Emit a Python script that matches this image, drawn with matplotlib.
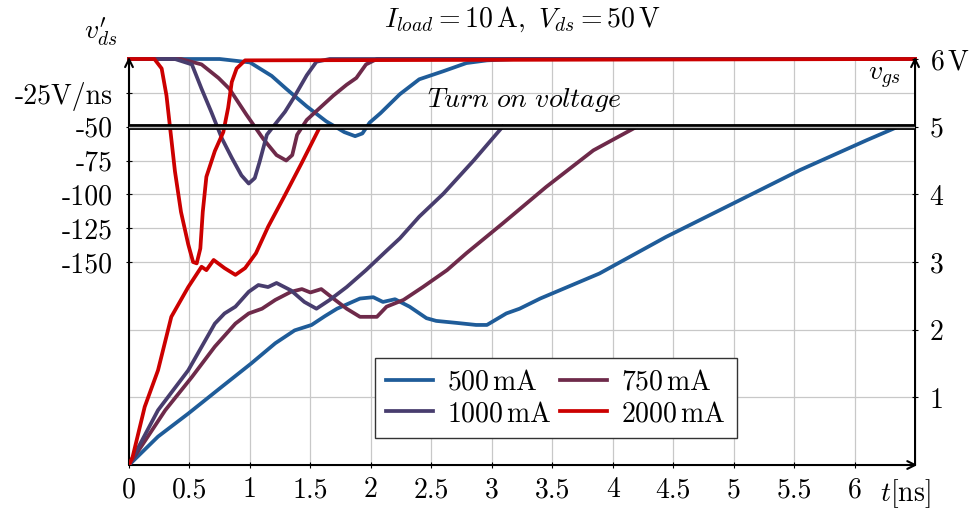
import numpy as np
import matplotlib
matplotlib.use("Agg")
import matplotlib.pyplot as plt

plt.rcParams['font.family'] = 'serif'
plt.rcParams['font.serif'] = ['cmr10', 'DejaVu Serif']
plt.rcParams['mathtext.fontset'] = 'cm'
plt.rcParams['axes.unicode_minus'] = False

# gate-source voltage v_gs [V] over t [ns]
t_vgs_500 = [0, 0.24, 0.49, 0.77, 1.01, 1.21, 1.37, 1.51, 1.62, 1.72, 1.91, 2.02, 2.10, 2.20, 2.32,
             2.46, 2.54, 2.71, 2.87, 2.96, 3.12, 3.23, 3.40, 3.89, 4.44, 4.99, 5.55, 6.10, 6.36]
vgs_500 = [0, 0.42, 0.76, 1.16, 1.50, 1.80, 1.99, 2.07, 2.20, 2.31, 2.46, 2.48, 2.41, 2.45, 2.34,
           2.17, 2.13, 2.10, 2.07, 2.07, 2.24, 2.31, 2.46, 2.83, 3.37, 3.86, 4.36, 4.80, 5.0]

t_vgs_750 = [0, 0.30, 0.52, 0.71, 0.88, 0.99, 1.10, 1.21, 1.34, 1.43, 1.50, 1.59, 1.69, 1.80, 1.91,
             2.05, 2.13, 2.27, 2.43, 2.63, 2.79, 3.09, 3.45, 3.84, 4.20]
vgs_750 = [0, 0.81, 1.30, 1.75, 2.09, 2.24, 2.31, 2.44, 2.56, 2.60, 2.55, 2.60, 2.46, 2.31, 2.19,
           2.19, 2.34, 2.44, 2.63, 2.88, 3.13, 3.57, 4.11, 4.65, 5.0]

t_vgs_1000 = [0, 0.24, 0.49, 0.71, 0.79, 0.88, 0.99, 1.07, 1.15, 1.22, 1.34, 1.45, 1.55, 1.66, 1.80,
              1.96, 2.12, 2.24, 2.40, 2.60, 2.85, 3.09]
vgs_1000 = [0, 0.81, 1.40, 2.09, 2.24, 2.34, 2.56, 2.66, 2.63, 2.69, 2.58, 2.41, 2.31, 2.44, 2.63,
            2.88, 3.15, 3.35, 3.67, 4.01, 4.50, 5.0]

t_vgs_2000 = [0, 0.03, 0.13, 0.24, 0.35, 0.49, 0.60, 0.64, 0.70, 0.79, 0.88, 0.96, 1.05, 1.15, 1.29,
              1.43, 1.58]
vgs_2000 = [0, 0.12, 0.86, 1.40, 2.19, 2.63, 2.93, 2.88, 3.03, 2.91, 2.81, 2.91, 3.13, 3.52, 3.99,
            4.47, 5.0]

# drain-source slope v'_ds [V/ns] over t [ns]
t_dv_500 = [0, 0.75, 1.0, 1.18, 1.30, 1.47, 1.63, 1.78, 1.87, 1.93, 1.99, 2.08, 2.24, 2.40, 2.60,
            2.79, 2.96, 3.2, 6.5]
dv_500 = [0, 0, -2.5, -12.5, -22, -35, -46, -54, -57, -55, -47, -40, -26, -15, -9, -3, -1, 0, 0]

t_dv_750 = [0, 0.43, 0.60, 0.74, 0.83, 0.97, 1.11, 1.22, 1.30, 1.35, 1.39, 1.47, 1.58, 1.69, 1.80,
            1.88, 1.96, 2.05, 6.5]
dv_750 = [0, 0, -4, -14, -22, -41, -59, -71, -75, -71, -56, -45, -36, -27, -19, -14, -4, 0, 0]

t_dv_1000 = [0, 0.38, 0.52, 0.60, 0.68, 0.77, 0.85, 0.93, 0.99, 1.04, 1.08, 1.14, 1.21, 1.29, 1.36,
             1.47, 1.55, 1.66, 6.5]
dv_1000 = [0, 0, -4, -22, -39, -59, -73, -86, -92, -88, -76, -56, -48, -39, -29, -12, -2, 0, 0]

t_dv_2000 = [0, 0.21, 0.27, 0.31, 0.34, 0.38, 0.43, 0.49, 0.53, 0.56, 0.59, 0.61, 0.64, 0.71, 0.78,
             0.82, 0.85, 0.89, 0.96, 6.5]
dv_2000 = [0, 0, -7, -27, -51, -83, -113, -137, -150, -151, -140, -113, -87, -68, -54, -36, -17, -7,
           -1, 0]

labels = ['500$\\,$mA', '750$\\,$mA', '1000$\\,$mA', '2000$\\,$mA']
colors = ['#1f5c99', '#6e2a4a', '#483d6e', '#cc0000']

x_ticks = np.arange(0, 6.01, 0.5)
x_labels = ['0', '0.5', '1', '1.5', '2', '2.5', '3', '3.5', '4', '4.5', '5', '5.5', '6']
dv_ticks = [-150, -125, -100, -75, -50, -25]
dv_labels = ['-150', '-125', '-100', '-75', '-50', '-25V/ns']
vgs_ticks = [1, 2, 3, 4, 5, 6]
vgs_labels = ['1', '2', '3', '4', '5', '6$\\,$V']

fs = 20

fig = plt.figure(figsize=(9.75, 5.14), dpi=100)
ax = fig.add_axes([0.1323, 0.0953, 0.8062, 0.7899])
axr = ax.twinx()

ax.set_xlim(0, 6.5)
ax.set_ylim(-300, 0)
axr.set_ylim(0, 6)

# grid (integer v_gs lines as minor ticks of the left axis)
ax.set_xticks(x_ticks)
ax.set_xticklabels(x_labels, fontsize=fs)
ax.set_yticks(dv_ticks)
ax.set_yticklabels(dv_labels, fontsize=fs)
ax.set_yticks([-250, -200], minor=True)
ax.tick_params(axis='y', which='minor', length=0)
ax.tick_params(axis='x', which='major', direction='inout', length=5, width=0.8, pad=6)
ax.tick_params(axis='y', which='major', direction='inout', length=5, width=0.8, pad=9)
ax.grid(True, which='both', color='#c8c8c8', lw=0.9)
ax.set_axisbelow(True)

axr.set_yticks(vgs_ticks)
axr.set_yticklabels(vgs_labels, fontsize=fs)
axr.tick_params(axis='y', direction='inout', length=5, width=0.8, pad=8)

for a in (ax, axr):
    for s in a.spines.values():
        s.set_visible(False)

# curves
series_dv = [(t_dv_500, dv_500), (t_dv_750, dv_750), (t_dv_1000, dv_1000), (t_dv_2000, dv_2000)]
series_vgs = [(t_vgs_500, vgs_500), (t_vgs_750, vgs_750), (t_vgs_1000, vgs_1000), (t_vgs_2000, vgs_2000)]
handles = []
for (tt, dd), c in zip(series_dv, colors):
    ax.plot(tt, dd, color=c, lw=2.7, clip_on=False, solid_joinstyle='round')
for (tt, vv), c, lab in zip(series_vgs, colors, labels):
    h, = axr.plot(tt, vv, color=c, lw=2.7, label=lab, solid_joinstyle='round')
    handles.append(h)

# turn on voltage line
axr.axhline(5, color='black', lw=4.2, zorder=5)
axr.axhline(5, color='#bbbbbb', lw=1.0, zorder=6)
axr.text(3.27, 5.39, r'$Turn\ on\ voltage$', fontsize=fs, ha='center', va='center', zorder=7)

# axes with arrows
arrow = dict(arrowstyle='->', lw=1.5, color='black', mutation_scale=14, shrinkA=0, shrinkB=0)
ax.annotate('', xy=(0, 1.005), xytext=(0, 0), xycoords='axes fraction', arrowprops=arrow, zorder=10)
ax.annotate('', xy=(1.0, 1.005), xytext=(1.0, 0), xycoords='axes fraction', arrowprops=arrow, zorder=10)
ax.annotate('', xy=(1.003, 0), xytext=(0, 0), xycoords='axes fraction', arrowprops=arrow, zorder=10)

# labels
ax.annotate(r'$t$[ns]', xy=(1, 0), xycoords='axes fraction', xytext=(-7, -9),
            textcoords='offset points', ha='center', va='top', fontsize=fs)
ax.annotate(r"$v^{\prime}_{ds}$", xy=(0, 1), xycoords='axes fraction', xytext=(-20, 7),
            textcoords='offset points', ha='center', va='bottom', fontsize=fs)
axr.annotate(r'$v_{gs}$', xy=(1, 1), xycoords='axes fraction', xytext=(-22, -4),
             textcoords='offset points', ha='center', va='top', fontsize=fs)
fig.text(0.5354, 0.962, r'$I_{load} = 10\,\mathrm{A},\ V_{ds} = 50\,\mathrm{V}$',
         ha='center', va='center', fontsize=fs)

leg = axr.legend([handles[0], handles[2], handles[1], handles[3]],
                 [labels[0], labels[2], labels[1], labels[3]],
                 ncol=2, loc='lower left', bbox_to_anchor=(0.313, 0.066), fontsize=fs,
                 fancybox=False, framealpha=1, edgecolor='#333333', handlelength=1.7,
                 columnspacing=0.3, handletextpad=0.5, borderpad=0.4, labelspacing=0.2,
                 borderaxespad=0)
leg.get_frame().set_linewidth(1.0)
leg.set_zorder(20)

fig.savefig('out.png', dpi=100)
